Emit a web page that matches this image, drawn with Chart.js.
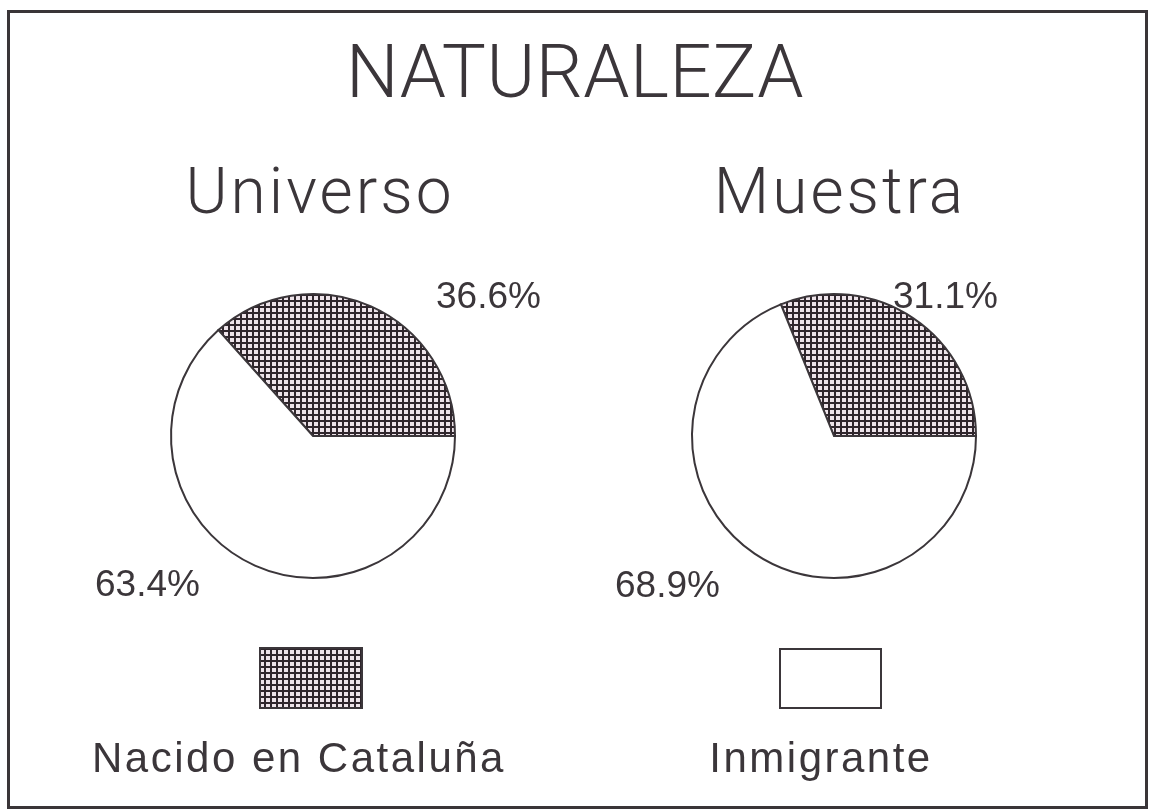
<!DOCTYPE html>
<html>
<head>
<meta charset="utf-8">
<script src="https://cdn.jsdelivr.net/npm/chart.js@4"></script>
<style>
  body { margin: 0; background: #fff; }
  #page { position: relative; width: 1152px; height: 809px; overflow: hidden; }
  #frame { position: absolute; left: 7px; top: 10px; width: 1141px; height: 799px; border: 3px solid #3a3538; box-sizing: border-box; }
  canvas { position: absolute; left: 0; top: 0; }
</style>
</head>
<body>
<div id="page">
  <div id="frame"></div>
  <canvas id="universoGrafico" width="1152" height="809"></canvas>
  <canvas id="muestraGrafico" width="1152" height="809"></canvas>
</div>
<script>
// datos
const titulo = "NATURALEZA";
const grupos = ["Universo", "Muestra"];
const categorias = ["Nacido en Cataluña", "Inmigrante"];
const universo = [36.6, 63.4];
const muestra = [31.1, 68.9];

const tinta = "#3b363a";

// trama cuadriculada para "Nacido en Cataluña"
let tramaCanvas = document.createElement("canvas");
tramaCanvas.width = 6;
tramaCanvas.height = 6;
let tctx = tramaCanvas.getContext("2d");
tctx.fillStyle = "#ede3e9";
tctx.fillRect(0, 0, 6, 6);
tctx.fillStyle = "#2f262c";
tctx.fillRect(0, 0, 6, 2);
tctx.fillRect(0, 0, 2, 6);
let trama = tctx.createPattern(tramaCanvas, "repeat");

function texto(ctx, str, x, y, font, align, spacing) {
  ctx.save();
  ctx.font = font;
  ctx.fillStyle = tinta;
  ctx.textAlign = align;
  ctx.textBaseline = "alphabetic";
  ctx.letterSpacing = (spacing || 0) + "px";
  ctx.fillText(str, x, y);
  ctx.restore();
}

// dibuja titulos, porcentajes y leyenda de cada grafico
function pluginTextos(opts) {
  return {
    id: "textos",
    afterDraw(chart) {
      let ctx = chart.ctx;
      let valores = chart.data.datasets[0].data;
      if (opts.titulo) {
        texto(ctx, titulo, 575, 97, "300 74px Roboto, 'DejaVu Sans'", "center", 0.5);
      }
      texto(ctx, opts.grupo, opts.grupoX, 213, "300 64px Roboto, 'DejaVu Sans'", "center", 3);
      let pctFont = "37px 'Liberation Sans', Arial, sans-serif";
      texto(ctx, valores[0].toFixed(1) + "%", opts.pct0[0], opts.pct0[1], pctFont, "left", 0);
      texto(ctx, valores[1].toFixed(1) + "%", opts.pct1[0], opts.pct1[1], pctFont, "left", 0);

      // leyenda
      let i = opts.leyenda;
      let b = opts.caja;
      ctx.save();
      ctx.fillStyle = chart.data.datasets[0].backgroundColor[i];
      ctx.fillRect(b[0], b[1], b[2], b[3]);
      ctx.strokeStyle = tinta;
      ctx.lineWidth = 2;
      ctx.strokeRect(b[0], b[1], b[2], b[3]);
      ctx.restore();
      texto(ctx, categorias[i], opts.textoX, 772, "42px 'Liberation Sans', Arial, sans-serif", "center", 2.5);
    },
  };
}

function configTarta(valores, padding, extra) {
  return {
    type: "pie",
    data: {
      labels: categorias,
      datasets: [
        {
          data: valores,
          backgroundColor: [trama, "#ffffff"],
          borderColor: tinta,
          borderWidth: 2,
          hoverOffset: 0,
          borderJoinStyle: "miter",
        },
      ],
    },
    options: {
      responsive: false,
      animation: false,
      devicePixelRatio: 1,
      // primer sector termina en el eje horizontal derecho
      rotation: 90 - (360 * valores[0]) / 100,
      layout: { padding: padding },
      plugins: {
        legend: { display: false },
        tooltip: { enabled: false },
      },
    },
    plugins: [pluginTextos(extra)],
  };
}

let universoGrafico = document.getElementById("universoGrafico");
new Chart(universoGrafico, configTarta(universo,
  { left: 170, right: 696, top: 293, bottom: 230 },
  { titulo: true, grupo: grupos[0], grupoX: 320, pct0: [436, 308], pct1: [95, 596],
    leyenda: 0, caja: [260, 648, 102, 60], textoX: 299 }));

let muestraGrafico = document.getElementById("muestraGrafico");
new Chart(muestraGrafico, configTarta(muestra,
  { left: 691, right: 175, top: 293, bottom: 230 },
  { titulo: false, grupo: grupos[1], grupoX: 840, pct0: [893, 308], pct1: [615, 597],
    leyenda: 1, caja: [780, 649, 101, 59], textoX: 821 }));
</script>
</body>
</html>
